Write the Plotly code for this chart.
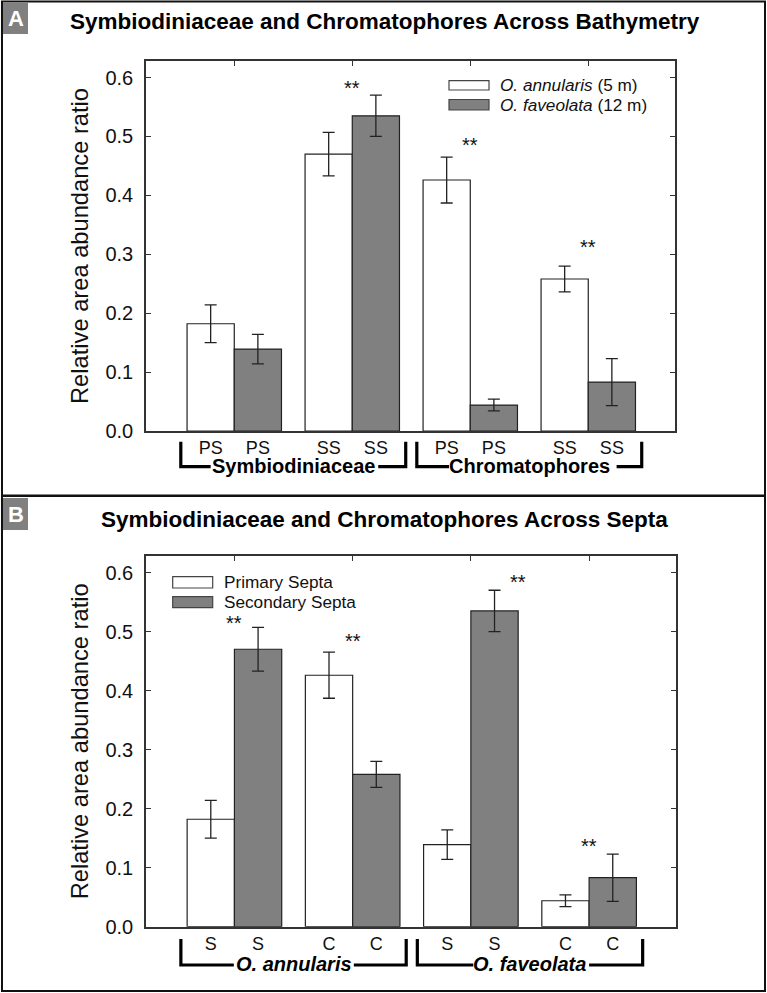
import plotly.graph_objects as go

# ---------------- data ----------------
groups_a = ["Symbiodiniaceae", "Chromatophores"]
bar_labels_a = ["PS", "PS", "SS", "SS", "PS", "PS", "SS", "SS"]
ann_a = [0.182, 0.470, 0.426, 0.258]          # O. annularis (5 m)
ann_a_err = [0.032, 0.037, 0.039, 0.022]
fav_a = [0.139, 0.535, 0.044, 0.083]          # O. faveolata (12 m)
fav_a_err = [0.025, 0.035, 0.010, 0.040]
series_a = ["<i>O. annularis</i> (5 m)", "<i>O. faveolata</i> (12 m)"]
stars_a_x = [1, 2, 3]
stars_a_y = [0.583, 0.485, 0.312]

groups_b = ["<i>O. annularis</i>", "<i>O. faveolata</i>"]
bar_labels_b = ["S", "S", "C", "C", "S", "S", "C", "C"]
prim_b = [0.182, 0.426, 0.139, 0.044]         # Primary Septa
prim_b_err = [0.032, 0.039, 0.025, 0.010]
sec_b = [0.470, 0.258, 0.535, 0.083]          # Secondary Septa
sec_b_err = [0.037, 0.022, 0.035, 0.040]
series_b = ["Primary Septa", "Secondary Septa"]
stars_b_x = [0, 1, 2.4, 3]
stars_b_y = [0.515, 0.484, 0.584, 0.136]

title_a = "Symbiodiniaceae and Chromatophores Across Bathymetry"
title_b = "Symbiodiniaceae and Chromatophores Across Septa"
ytitle = "Relative area abundance ratio"
yticks = [0.0, 0.1, 0.2, 0.3, 0.4, 0.5, 0.6]

# ---------------- layout helpers ----------------
W, H = 767, 993
FONT = "Liberation Sans, Arial, sans-serif"
LINE = "#333333"
GRAY = "#808080"


def px(x):
    return x / W


def py(y):
    return 1 - y / H


XR = [-0.748, 3.735]
YR = [0, 0.628]
cat_x = [0, 1, 2, 3]
bar_pos = [c + d for c in cat_x for d in (-0.2, 0.2)]

fig = go.Figure()


def add_panel(idx, v1, e1, v2, e2, names):
    xa = "x" if idx == 1 else "x2"
    ya = "y" if idx == 1 else "y2"
    for vals, errs, col, nm in ((v1, e1, "white", names[0]), (v2, e2, GRAY, names[1])):
        fig.add_trace(go.Bar(
            x=cat_x, y=vals, name=nm, xaxis=xa, yaxis=ya,
            marker=dict(color=col, line=dict(color="#222222", width=1.2)),
            error_y=dict(type="data", array=errs, visible=True,
                         color="#222222", thickness=1.3, width=6),
            showlegend=False,
        ))


add_panel(1, ann_a, ann_a_err, fav_a, fav_a_err, series_a)
add_panel(2, prim_b, prim_b_err, sec_b, sec_b_err, series_b)
# empty traces so the overlay tick axes are drawn
fig.add_trace(go.Scatter(x=[], y=[], xaxis="x3", yaxis="y", showlegend=False, hoverinfo="skip"))
fig.add_trace(go.Scatter(x=[], y=[], xaxis="x4", yaxis="y2", showlegend=False, hoverinfo="skip"))

dom_x_a = [px(146), px(675)]
dom_y_a = [py(431), py(61)]
dom_x_b = [px(146), px(676)]
dom_y_b = [py(926.7), py(556)]

xbase = dict(range=XR, showline=True, linecolor=LINE, linewidth=1.5, mirror=True,
             ticks="", tickmode="array", tickvals=bar_pos, automargin=False,
             tickfont=dict(family=FONT, size=18, color="#111111"),
             showgrid=False, zeroline=False, fixedrange=True)
ybase = dict(range=YR, showline=True, linecolor=LINE, linewidth=1.5, mirror="ticks",
             ticks="inside", ticklen=5, tickcolor=LINE, tickmode="array", tickvals=yticks,
             tickformat=".1f", tickfont=dict(family=FONT, size=20, color="#111111"),
             ticklabelstandoff=7,
             title=dict(text=ytitle, font=dict(family=FONT, size=23.7, color="#111111"), standoff=10),
             automargin=False, showgrid=False, zeroline=False, fixedrange=True)
xtop = dict(range=XR, side="top", showline=False, ticks="inside", ticklen=5, tickcolor=LINE,
            tickmode="array", tickvals=cat_x, showticklabels=False, showgrid=False,
            automargin=False, zeroline=False, fixedrange=True)

fig.update_layout(
    width=W, height=H, margin=dict(l=0, r=0, t=0, b=0, pad=0, autoexpand=False),
    paper_bgcolor="white", plot_bgcolor="white", showlegend=False,
    barmode="group", bargap=0.2, bargroupgap=0,
    font=dict(family=FONT, color="#111111"),
    xaxis=dict(xbase, domain=dom_x_a, anchor="y", ticktext=bar_labels_a),
    yaxis=dict(ybase, domain=dom_y_a, anchor="x"),
    xaxis2=dict(xbase, domain=dom_x_b, anchor="y2", ticktext=bar_labels_b),
    yaxis2=dict(ybase, domain=dom_y_b, anchor="x2"),
    xaxis3=dict(xtop, overlaying="x", anchor="y"),
    xaxis4=dict(xtop, overlaying="x2", anchor="y2"),
)

shapes = []
annots = []


def text(t, xref, yref, x, y, size, color="#111111", xanchor="center"):
    annots.append(dict(text=t, xref=xref, yref=yref, x=x, y=y, showarrow=False,
                       xanchor=xanchor, yanchor="middle",
                       font=dict(family=FONT, size=size, color=color)))


# outer frame and divider
shapes.append(dict(type="rect", xref="paper", yref="paper", x0=px(2), x1=px(765),
                   y0=py(991), y1=py(1.5), line=dict(color="#111111", width=2)))
shapes.append(dict(type="line", xref="paper", yref="paper", x0=px(2), x1=px(765),
                   y0=py(495.7), y1=py(495.7), line=dict(color="#111111", width=2.5)))

# panel letters
for letter, top, bot in (("A", 3, 34), ("B", 498, 530)):
    shapes.append(dict(type="rect", xref="paper", yref="paper", x0=px(3), x1=px(28),
                       y0=py(bot), y1=py(top), fillcolor=GRAY, line=dict(width=0)))
    text("<b>%s</b>" % letter, "paper", "paper", px(15.5), py((top + bot) / 2), 22, "white")

# titles
text("<b>%s</b>" % title_a, "paper", "paper", px(385), py(22), 22.5, "#000000")
text("<b>%s</b>" % title_b, "paper", "paper", px(384), py(519), 22.5, "#000000")


# brackets with group labels (line broken around the label)
def brackets(xref, top_px, bot_px, labels, gaps):
    for center, lab, (g0, g1) in zip((0.5, 2.5), labels, gaps):
        xl, xr = center - 0.953, center + 0.953
        ln = dict(color="#000000", width=3.2)
        shapes.append(dict(type="path", xref=xref, yref="paper", line=ln,
                           path="M %f,%f L %f,%f L %f,%f" % (xl, py(top_px), xl, py(bot_px),
                                                             g0, py(bot_px))))
        shapes.append(dict(type="path", xref=xref, yref="paper", line=ln,
                           path="M %f,%f L %f,%f L %f,%f" % (g1, py(bot_px), xr, py(bot_px),
                                                             xr, py(top_px))))
        text("<b>%s</b>" % lab, xref, "paper", center, py(bot_px - 1), 20, "#000000")


brackets("x", 441.7, 466.7, groups_a, [(-0.20, 1.22), (1.82, 3.24)])
brackets("x2", 939, 965, groups_b, [(-0.005, 1.01), (2.02, 3.0)])

# significance stars
for xs, ys, xr, yr in ((stars_a_x, stars_a_y, "x", "y"), (stars_b_x, stars_b_y, "x2", "y2")):
    for xv, yv in zip(xs, ys):
        text("**", xr, yr, xv, yv, 20)


# legends (drawn manually to get wide swatches)
def legend(x0, rows, names):
    for (t, b), nm, col in zip(rows, names, ("white", GRAY)):
        shapes.append(dict(type="rect", xref="paper", yref="paper", x0=px(x0), x1=px(x0 + 40),
                           y0=py(b), y1=py(t), fillcolor=col, line=dict(color="#444444", width=1.2)))
        text(nm, "paper", "paper", px(x0 + 49), py((t + b) / 2), 17.2, xanchor="left")


legend(449, [(80.7, 90), (99.5, 110)], series_a)
legend(172.7, [(576.7, 588), (596.7, 607.7)], series_b)

fig.update_layout(shapes=shapes, annotations=annots)
fig.write_html("out.html", config={"displayModeBar": False},
               post_script="document.body.style.margin='0';")
